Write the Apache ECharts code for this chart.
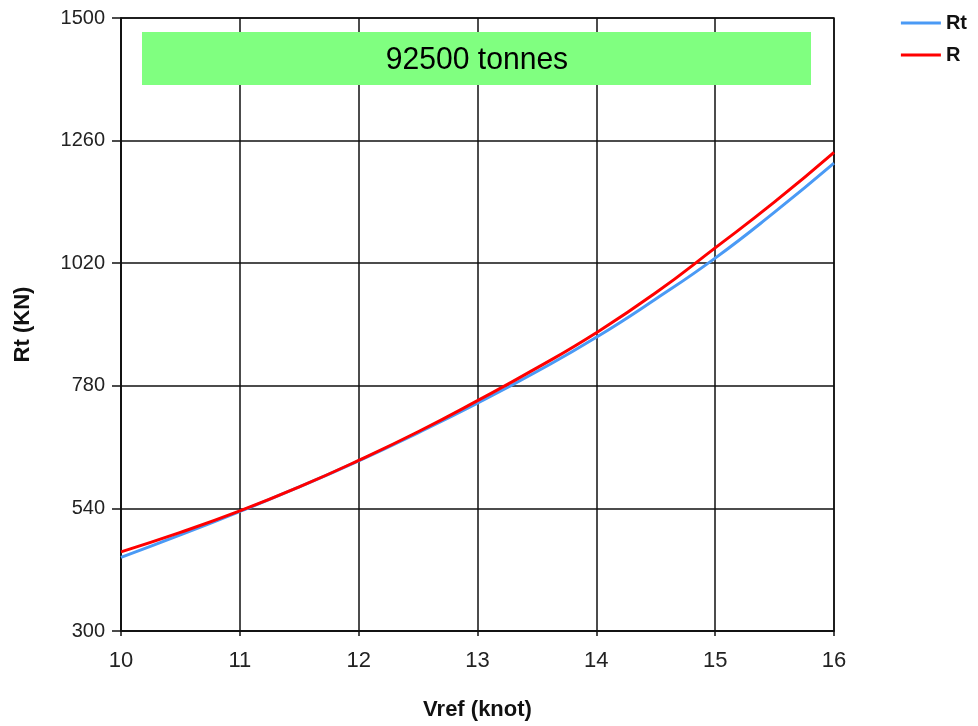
<!DOCTYPE html>
<html>
<head>
<meta charset="utf-8">
<script src="https://cdn.jsdelivr.net/npm/echarts@6/dist/echarts.min.js"></script>
<style>
  html, body { margin: 0; padding: 0; background: #fff; }
  #chart { width: 978px; height: 726px; }
</style>
</head>
<body>
<div id="chart"></div>
<script>
// Ship resistance versus reference speed
const speeds = [10, 10.5, 11, 11.5, 12, 12.5, 13, 13.5, 14, 14.5, 15, 15.5, 16];
const rtValues = [444, 488, 534, 582, 633, 688, 746, 808, 875, 950, 1030, 1120, 1216];
const rValues  = [455, 493, 535, 582, 634, 690, 751, 815, 884, 962, 1050, 1140, 1237];
const yTicks = [300, 540, 780, 1020, 1260, 1500];
const bannerText = '92500 tonnes';

const FONT = '"Liberation Sans", Arial, sans-serif';

const chart = echarts.init(document.getElementById('chart'));

chart.setOption({
  animation: false,
  backgroundColor: '#ffffff',
  grid: { left: 121, right: 144, top: 18, bottom: 94, show: true, borderColor: '#111', borderWidth: 1.5, backgroundColor: 'transparent' },
  legend: {
    orient: 'vertical',
    right: 6,
    top: 8,
    itemWidth: 40,
    itemHeight: 3,
    itemGap: 12,
    icon: 'rect',
    textStyle: { fontFamily: FONT, fontSize: 20, fontWeight: 'bold', color: '#111' },
    data: ['Rt', 'R']
  },
  xAxis: {
    type: 'value',
    min: 10,
    max: 16,
    interval: 1,
    name: 'Vref (knot)',
    nameLocation: 'middle',
    nameGap: 68,
    nameTextStyle: { fontFamily: FONT, fontSize: 22, fontWeight: 'bold', color: '#111' },
    axisLine: { lineStyle: { color: '#111', width: 1.5 } },
    axisTick: { show: true, length: 5, lineStyle: { color: '#111', width: 1.5 } },
    axisLabel: { fontFamily: FONT, fontSize: 22, color: '#222', margin: 19, formatter: v => String(v) },
    splitLine: { show: true, lineStyle: { color: '#111', width: 1.5 } }
  },
  yAxis: {
    type: 'value',
    min: yTicks[0],
    max: yTicks[yTicks.length - 1],
    interval: yTicks[1] - yTicks[0],
    name: 'Rt (KN)',
    nameLocation: 'middle',
    nameGap: 87,
    nameRotate: 90,
    nameTextStyle: { fontFamily: FONT, fontSize: 22, fontWeight: 'bold', color: '#111' },
    axisLine: { show: true, lineStyle: { color: '#111', width: 1.5 } },
    axisTick: { show: true, length: 9, lineStyle: { color: '#111', width: 1.5 } },
    axisLabel: { fontFamily: FONT, fontSize: 20, color: '#222', margin: 16, formatter: v => String(v) },
    splitLine: { show: true, lineStyle: { color: '#111', width: 1.5 } }
  },
  graphic: [
    {
      type: 'rect',
      shape: { x: 142, y: 32, width: 669, height: 53 },
      style: { fill: '#80ff80' },
      z: 10
    },
    {
      type: 'text',
      x: 477,
      y: 60,
      scaleX: 0.94,
      style: {
        text: bannerText,
        fontFamily: FONT,
        fontSize: 32,
        fill: '#000',
        align: 'center',
        verticalAlign: 'middle'
      },
      z: 11
    }
  ],
  series: [
    {
      name: 'Rt',
      type: 'line',
      smooth: true,
      symbol: 'none',
      data: speeds.map((s, i) => [s, rtValues[i]]),
      lineStyle: { color: '#4a9af5', width: 3 },
      itemStyle: { color: '#4a9af5' },
      z: 3
    },
    {
      name: 'R',
      type: 'line',
      smooth: true,
      symbol: 'none',
      data: speeds.map((s, i) => [s, rValues[i]]),
      lineStyle: { color: '#ff0000', width: 3 },
      itemStyle: { color: '#ff0000' },
      z: 4
    }
  ]
});
</script>
</body>
</html>
